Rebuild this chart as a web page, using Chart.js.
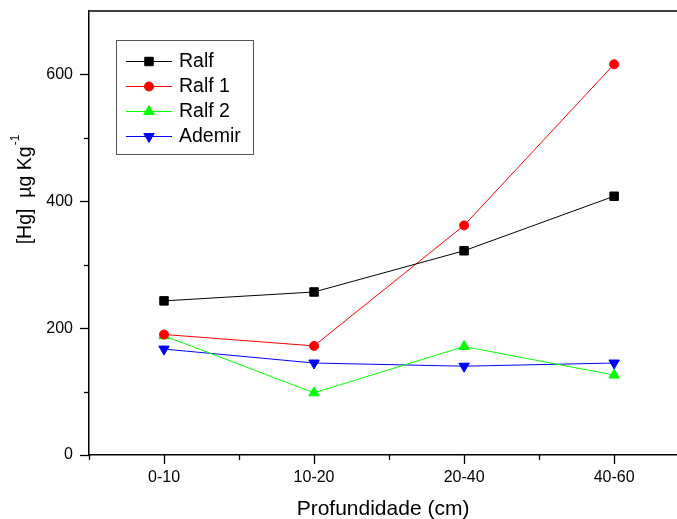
<!DOCTYPE html>
<html>
<head>
<meta charset="utf-8">
<script src="https://cdn.jsdelivr.net/npm/chart.js@4.4.0/dist/chart.umd.min.js"></script>
<style>
html, body { margin: 0; padding: 0; background: #fff; }
</style>
</head>
<body>
<canvas id="canvas" width="677" height="519"></canvas>
<script>
// data
var categories = ['0-10', '10-20', '20-40', '40-60'];
var ralf   = [243, 257, 322, 408];
var ralf1  = [190, 172, 362, 616];
var ralf2  = [188, 98, 171, 126];
var ademir = [167, 145, 140, 145];
var yLabels = [0, 200, 400, 600];

var FONT = "'Liberation Sans', Arial, sans-serif";

function pts(arr) {
    return arr.map(function (v, i) { return { x: i, y: v }; });
}

// ticks major/minor, top frame line, y title, legend
var frame = {
    id: 'frame',
    afterDraw: function (chart) {
        var ctx = chart.ctx;
        var x = chart.scales.x, y = chart.scales.y;
        var area = chart.chartArea;
        ctx.save();
        ctx.strokeStyle = '#000';
        ctx.lineWidth = 1.5;
        ctx.beginPath();
        ctx.moveTo(area.left, area.top);
        ctx.lineTo(677, area.top);
        ctx.stroke();
        ctx.lineWidth = 1.3;
        for (var v = -0.5; v <= x.max; v += 0.5) {
            var px = Math.round(x.getPixelForValue(v)) + 0.5;
            var len = Number.isInteger(v) ? 9 : 5;
            ctx.beginPath();
            ctx.moveTo(px, area.bottom);
            ctx.lineTo(px, area.bottom + len);
            ctx.stroke();
        }
        for (var w = 0; w < 700; w += 100) {
            var py = Math.round(y.getPixelForValue(w)) + 0.5;
            var l = yLabels.indexOf(w) >= 0 ? 9 : 5;
            ctx.beginPath();
            ctx.moveTo(area.left, py);
            ctx.lineTo(area.left - l, py);
            ctx.stroke();
        }

        // y title with superscript
        ctx.translate(26, 190);
        ctx.rotate(-Math.PI / 2);
        ctx.fillStyle = '#000';
        ctx.textBaseline = 'middle';
        ctx.textAlign = 'left';
        var main = '[Hg]  \u00b5g Kg';
        ctx.font = '19.5px ' + FONT;
        var w1 = ctx.measureText(main).width;
        ctx.font = '12px ' + FONT;
        var w2 = ctx.measureText('-1').width;
        var sx = -(w1 + w2) / 2;
        ctx.font = '19.5px ' + FONT;
        ctx.fillText(main, sx, 0);
        ctx.font = '12px ' + FONT;
        ctx.fillText('-1', sx + w1 + 1, -10);
        ctx.restore();

        // legend
        ctx.save();
        ctx.strokeStyle = '#555';
        ctx.lineWidth = 1;
        ctx.strokeRect(116.5, 40.5, 137, 114);
        var rows = [61, 86, 111, 136];
        chart.data.datasets.forEach(function (ds, i) {
            var ry = rows[i];
            ctx.strokeStyle = ds.borderColor;
            ctx.lineWidth = 1;
            ctx.beginPath();
            ctx.moveTo(126, ry + 0.5);
            ctx.lineTo(172, ry + 0.5);
            ctx.stroke();
            ctx.fillStyle = ds.pointBackgroundColor;
            ctx.strokeStyle = ds.pointBackgroundColor;
            Chart.helpers.drawPoint(ctx, {
                pointStyle: ds.pointStyle,
                radius: ds.pointRadius,
                rotation: ds.pointRotation || 0,
                borderWidth: 1
            }, 149, ry + 0.5);
            ctx.fillStyle = '#000';
            ctx.font = '19.5px ' + FONT;
            ctx.textBaseline = 'middle';
            ctx.fillText(ds.label, 179, ry + 1);
        });
        ctx.restore();
    }
};

function series(label, data, color, style, r, rot) {
    return {
        label: label,
        data: pts(data),
        borderColor: color,
        borderWidth: 1,
        pointBackgroundColor: color,
        pointBorderColor: color,
        pointBorderWidth: 1,
        pointStyle: style,
        pointRadius: r,
        pointRotation: rot || 0,
        fill: false,
        tension: 0
    };
}

var myChart = new Chart(document.getElementById('canvas').getContext('2d'), {
    type: 'line',
    data: {
        datasets: [
            series('Ralf', ralf, '#000000', 'rect', 6),
            series('Ralf 1', ralf1, '#ff0000', 'circle', 4.5),
            series('Ralf 2', ralf2, '#00ff00', 'triangle', 6),
            series('Ademir', ademir, '#0000ff', 'triangle', 6, 180)
        ]
    },
    options: {
        responsive: false,
        animation: false,
        devicePixelRatio: 1,
        layout: { autoPadding: false, padding: { top: 11, right: 0, left: 0, bottom: 0 } },
        plugins: { legend: { display: false }, tooltip: { enabled: false } },
        scales: {
            x: {
                type: 'linear',
                min: -0.5,
                max: 3.419,
                afterFit: function (s) { s.height = 64; s.paddingLeft = 0; s.paddingRight = 0; },
                ticks: {
                    stepSize: 0.5,
                    includeBounds: false,
                    autoSkip: false,
                    maxRotation: 0,
                    padding: 4,
                    color: '#000',
                    font: { family: FONT, size: 16 },
                    callback: function (v) {
                        return Number.isInteger(v) && categories[v] ? categories[v] : '';
                    }
                },
                grid: { drawOnChartArea: false, tickLength: 9, tickColor: 'rgba(0,0,0,0)' },
                border: { color: '#000', width: 1.5 },
                title: {
                    display: true,
                    text: 'Profundidade (cm)',
                    color: '#000',
                    padding: { top: 0, bottom: 0 },
                    font: { family: FONT, size: 21, lineHeight: 0.9 }
                }
            },
            y: {
                min: 0,
                max: 700,
                afterFit: function (s) { s.width = 89; s.paddingTop = 0; s.paddingBottom = 0; },
                ticks: {
                    stepSize: 100,
                    padding: 7,
                    color: '#000',
                    font: { family: FONT, size: 16 },
                    callback: function (v) { return yLabels.indexOf(v) >= 0 ? v : ''; }
                },
                grid: { drawOnChartArea: false, tickLength: 9, tickColor: 'rgba(0,0,0,0)' },
                border: { color: '#000', width: 1.5 }
            }
        }
    },
    plugins: [frame]
});
</script>
</body>
</html>
